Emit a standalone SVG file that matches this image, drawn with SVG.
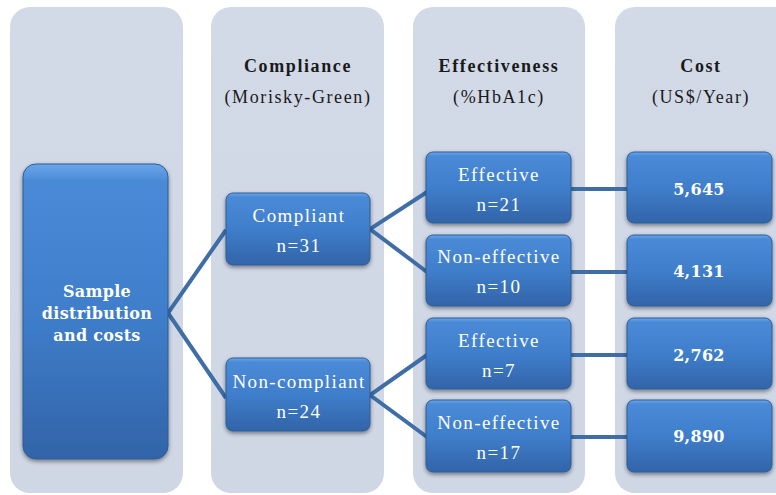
<svg xmlns="http://www.w3.org/2000/svg" width="776" height="495" viewBox="0 0 776 495">
<defs>
<linearGradient id="boxg" x1="0" y1="0" x2="0" y2="1">
<stop offset="0" stop-color="#6aa6ea"/>
<stop offset="0.06" stop-color="#4a8ad6"/>
<stop offset="0.5" stop-color="#3f7ecb"/>
<stop offset="1" stop-color="#3264a8"/>
</linearGradient>
<linearGradient id="colg" x1="0" y1="0" x2="0" y2="1">
<stop offset="0" stop-color="#d2d9e7"/>
<stop offset="1" stop-color="#cfd6e4"/>
</linearGradient>
<filter id="sh" x="-10%" y="-10%" width="120%" height="130%">
<feGaussianBlur in="SourceAlpha" stdDeviation="2"/>
<feOffset dy="2" result="b"/>
<feComponentTransfer><feFuncA type="linear" slope="0.45"/></feComponentTransfer>
<feMerge><feMergeNode/><feMergeNode in="SourceGraphic"/></feMerge>
</filter>
</defs>
<style>
.col{fill:url(#colg);}
.box{fill:url(#boxg);stroke:#2e5d98;stroke-width:1;filter:url(#sh);}
.hdr{font-family:"Liberation Serif",serif;font-size:18px;letter-spacing:1.6px;fill:#1a1a1a;text-anchor:middle;}
.hb{font-weight:bold;}
.bt{font-family:"Liberation Serif",serif;font-size:19px;letter-spacing:1.4px;fill:#ffffff;text-anchor:middle;}
.bb{font-family:"DejaVu Serif","Liberation Serif",serif;font-size:16px;font-weight:bold;letter-spacing:0.3px;fill:#ffffff;text-anchor:middle;}
.cn{fill:none;stroke:#3f6ea6;stroke-width:4;}
</style>
<rect width="776" height="495" fill="#ffffff"/>
<g id="columns">
<rect class="col" x="10" y="7" width="173" height="486" rx="20"/>
<rect class="col" x="211" y="7" width="173" height="486" rx="20"/>
<rect class="col" x="413" y="7" width="172" height="486" rx="20"/>
<rect class="col" x="615" y="7" width="180" height="486" rx="20"/>
</g>
<g id="headers">
<text class="hdr hb" x="298" y="72">Compliance</text>
<text class="hdr" x="298" y="103">(Morisky-Green)</text>
<text class="hdr hb" x="499" y="72">Effectiveness</text>
<text class="hdr" x="499" y="103">(%HbA1c)</text>
<text class="hdr hb" x="701" y="72">Cost</text>
<text class="hdr" x="701" y="103">(US$/Year)</text>
</g>
<g id="connectors">
<polyline class="cn" points="226,230 168,313 226,398"/>
<polyline class="cn" points="427,192 370,229 427,272"/>
<polyline class="cn" points="427,355 370,395 427,437"/>
<line class="cn" x1="570" y1="189" x2="628" y2="189"/>
<line class="cn" x1="570" y1="272" x2="628" y2="272"/>
<line class="cn" x1="570" y1="355" x2="628" y2="355"/>
<line class="cn" x1="570" y1="437" x2="628" y2="437"/>
</g>
<g id="sample">
<rect class="box" x="23" y="164" width="145" height="295" rx="13"/>
<text class="bb" x="97" y="297">Sample</text>
<text class="bb" x="97" y="319">distribution</text>
<text class="bb" x="97" y="341">and costs</text>
</g>
<g id="compliant">
<rect class="box" x="226" y="193" width="144" height="72" rx="7"/>
<text class="bt" x="299" y="222">Compliant</text>
<text class="bt" x="299" y="252">n=31</text>
</g>
<g id="noncompliant">
<rect class="box" x="226" y="358" width="144" height="73" rx="7"/>
<text class="bt" x="299" y="388">Non-compliant</text>
<text class="bt" x="299" y="418">n=24</text>
</g>
<g id="eff1">
<rect class="box" x="426" y="152" width="145" height="71" rx="7"/>
<text class="bt" x="499" y="181">Effective</text>
<text class="bt" x="499" y="211">n=21</text>
</g>
<g id="neff1">
<rect class="box" x="426" y="235" width="145" height="71" rx="7"/>
<text class="bt" x="499" y="263">Non-effective</text>
<text class="bt" x="499" y="293">n=10</text>
</g>
<g id="eff2">
<rect class="box" x="426" y="318" width="145" height="71" rx="7"/>
<text class="bt" x="499" y="347">Effective</text>
<text class="bt" x="499" y="377">n=7</text>
</g>
<g id="neff2">
<rect class="box" x="426" y="400" width="145" height="72" rx="7"/>
<text class="bt" x="499" y="429">Non-effective</text>
<text class="bt" x="499" y="459">n=17</text>
</g>
<g id="cost1">
<rect class="box" x="627" y="152" width="145" height="71" rx="7"/>
<text class="bb" x="699" y="195">5,645</text>
</g>
<g id="cost2">
<rect class="box" x="627" y="235" width="145" height="71" rx="7"/>
<text class="bb" x="699" y="277">4,131</text>
</g>
<g id="cost3">
<rect class="box" x="627" y="318" width="145" height="71" rx="7"/>
<text class="bb" x="699" y="361">2,762</text>
</g>
<g id="cost4">
<rect class="box" x="627" y="400" width="145" height="72" rx="7"/>
<text class="bb" x="699" y="442">9,890</text>
</g>
</svg>
